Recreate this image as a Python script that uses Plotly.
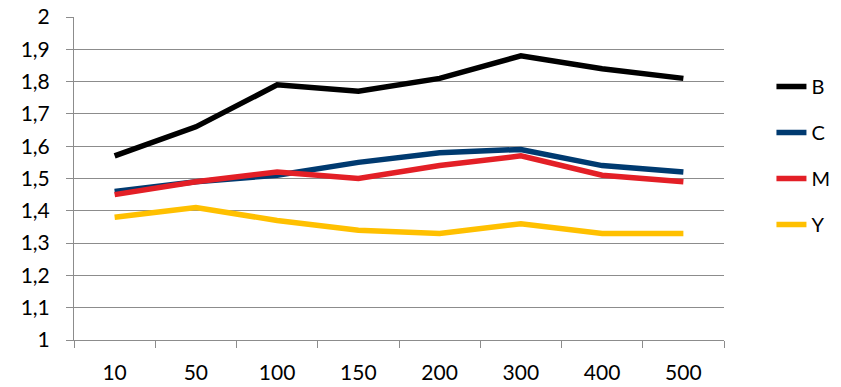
import plotly.graph_objects as go

categories = ["10", "50", "100", "150", "200", "300", "400", "500"]
b_values = [1.57, 1.66, 1.79, 1.77, 1.81, 1.88, 1.84, 1.81]
c_values = [1.46, 1.49, 1.51, 1.55, 1.58, 1.59, 1.54, 1.52]
m_values = [1.45, 1.49, 1.52, 1.50, 1.54, 1.57, 1.51, 1.49]
y_values = [1.38, 1.41, 1.37, 1.34, 1.33, 1.36, 1.33, 1.33]

y_ticks = [1.0, 1.1, 1.2, 1.3, 1.4, 1.5, 1.6, 1.7, 1.8, 1.9, 2.0]
y_tick_labels = ["1", "1,1", "1,2", "1,3", "1,4", "1,5", "1,6", "1,7", "1,8", "1,9", "2"]

series = [
    ("B", b_values, "#000000"),
    ("C", c_values, "#003a70"),
    ("M", m_values, "#e31f26"),
    ("Y", y_values, "#ffc000"),
]

fig = go.Figure()
for name, vals, color in series:
    fig.add_trace(go.Scatter(
        x=categories, y=vals, name=name, mode="lines",
        legendgroup=name,
        line=dict(color=color, width=5.5),
    ))

font_family = "Lato, 'Open Sans', sans-serif"
grid_color = "#8c8c8c"

fig.update_layout(
    width=841, height=387,
    margin=dict(l=74, r=117, t=17, b=47, autoexpand=False),
    paper_bgcolor="white", plot_bgcolor="white",
    font=dict(family=font_family, size=19, color="#000000"),
    showlegend=True,
    legend=dict(
        x=1.073, y=0.845, xanchor="left", yanchor="top",
        font=dict(size=20),
        tracegroupgap=17,
        itemwidth=30,
        bgcolor="rgba(0,0,0,0)",
    ),
    xaxis=dict(
        type="category",
        tickson="boundaries",
        ticks="outside", ticklen=7, tickcolor=grid_color, tickwidth=1,
        showline=True, linecolor=grid_color, linewidth=1,
        showgrid=False,
        range=[-0.5, 7.5],
        tickfont=dict(size=21),
        ticklabelstandoff=14,
        automargin=False,
    ),
    yaxis=dict(
        range=[1.0, 2.0],
        tickvals=y_ticks, ticktext=y_tick_labels,
        ticks="outside", ticklen=7, tickcolor=grid_color, tickwidth=1,
        showline=True, linecolor=grid_color, linewidth=1,
        showgrid=True, gridcolor=grid_color, gridwidth=1,
        zeroline=False,
        tickfont=dict(size=21),
        ticklabelstandoff=12,
        automargin=False,
    ),
)

fig.write_html("out.html")
